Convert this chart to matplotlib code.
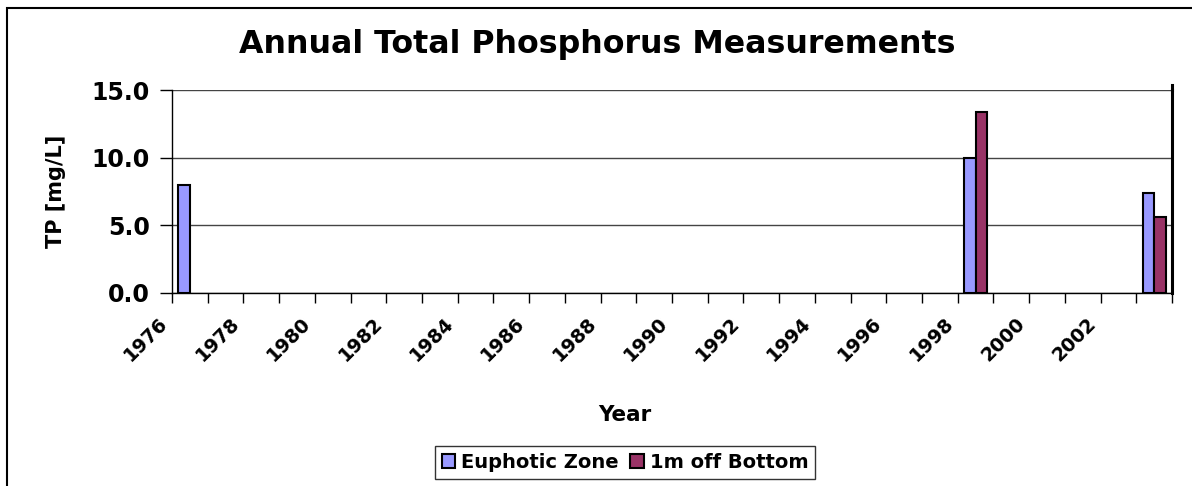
import matplotlib.pyplot as plt
import matplotlib.patches as patches
from matplotlib.transforms import ScaledTranslation
import numpy as np

# Jahre und Messwerte (TP in mg/L); fehlende Jahre = keine Messung
years = list(range(1976, 2004))
euphotic = {1976: 8.0, 1998: 10.0, 2003: 7.4}
bottom = {1998: 13.4, 2003: 5.6}
tick_years = list(range(1976, 2003, 2))

plt.rcParams['font.family'] = 'DejaVu Sans'
plt.rcParams['font.weight'] = 'bold'

W, H = 1192, 486
fig = plt.figure(figsize=(W / 100, H / 100), dpi=100)
ax = fig.add_axes([172 / W, 1 - 293 / H, 1000 / W, 203 / H])

width = 0.32
eu_x = [i for i, y in enumerate(years) if y in euphotic]
bo_x = [i for i, y in enumerate(years) if y in bottom]

ax.bar(np.array(eu_x) - width / 2, [euphotic[years[i]] for i in eu_x], width,
       color='#9999FF', edgecolor='black', linewidth=1.5, label='Euphotic Zone', zorder=3)
ax.bar(np.array(bo_x) + width / 2, [bottom[years[i]] for i in bo_x], width,
       color='#993366', edgecolor='black', linewidth=1.5, label='1m off Bottom', zorder=3)

ax.set_xlim(-0.5, len(years) - 0.5)
ax.set_ylim(0, 15)
ax.set_yticks([0, 5, 10, 15])
ax.set_yticklabels([f'{v:.1f}' for v in [0, 5, 10, 15]], fontsize=17, fontweight='bold')
ax.tick_params(axis='y', length=9, width=1, pad=7)
ax.yaxis.grid(True, color='#444444', linewidth=1)
ax.set_axisbelow(True)

# Ticks zwischen den Kategorien, Beschriftung jedes zweite Jahr
ax.set_xticks(np.arange(-0.5, len(years), 1), minor=True)
ax.tick_params(axis='x', which='minor', length=7, width=1)
ax.set_xticks([years.index(y) for y in tick_years])
ax.set_xticklabels([str(y) for y in tick_years], fontsize=13.8, fontweight='bold')
ax.tick_params(axis='x', which='major', length=0, pad=20)
off = ScaledTranslation(-25 / 100, 0, fig.dpi_scale_trans)
for lab in ax.get_xticklabels():
    lab.set_rotation(45)
    lab.set_ha('right')
    lab.set_va('center')
    lab.set_rotation_mode('anchor')
    lab.set_transform(lab.get_transform() + off)

ax.spines['top'].set_visible(False)
ax.spines['right'].set_linewidth(2.2)
ax.spines['left'].set_linewidth(1)
ax.spines['bottom'].set_linewidth(1)
ax.plot([1, 1], [1, 1.025], transform=ax.transAxes, color='black', lw=2.2, clip_on=False)

ax.set_ylabel('TP [mg/L]', fontsize=15, fontweight='bold')
ax.yaxis.set_label_coords(-(172 - 66) / 1000, 0.5)

fig.text(597 / W, 1 - 45 / H, 'Annual Total Phosphorus Measurements',
         ha='center', va='center', fontsize=22.8, fontweight='bold')
fig.text(625 / W, 1 - 415 / H, 'Year', ha='center', va='center',
         fontsize=15.5, fontweight='bold')

leg = fig.legend(loc='upper center', bbox_to_anchor=(625 / W, 1 - 446 / H), ncol=2,
                 frameon=True, fancybox=False, edgecolor='black', fontsize=14,
                 handlelength=0.7, handleheight=0.7, handletextpad=0.3,
                 columnspacing=0.6, borderpad=0.35, borderaxespad=0)
leg.get_frame().set_linewidth(1)
for t in leg.get_texts():
    t.set_fontweight('bold')

fig.patches.append(patches.Rectangle((7 / W, -0.1), 1.2, 1.1 - 8.5 / H,
                                     transform=fig.transFigure, fill=False,
                                     edgecolor='black', linewidth=1.5))

fig.savefig('out.png', dpi=100)
